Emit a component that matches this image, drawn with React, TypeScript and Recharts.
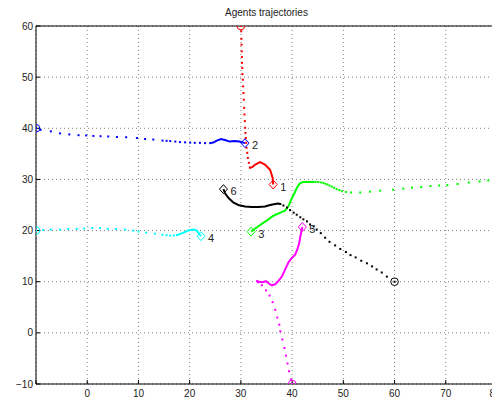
import React from "react";
import { CartesianGrid, ReferenceLine, Scatter, ScatterChart, XAxis, YAxis } from "recharts";

type Pt = [number, number];

const xTicks = [-10, 0, 10, 20, 30, 40, 50, 60, 70, 80];
const yTicks = [-10, 0, 10, 20, 30, 40, 50, 60];
const agentLabels = ["1", "2", "3", "4", "5", "6"];

// agent 1 (red): sparse dots from the start, then the dense tail
const agent1Dots: Pt[] = [
  [30, 60], [30.07, 58.96], [30.1, 57.5], [30.13, 56.35], [30.17, 55.05], [30.2, 53.95],
  [30.23, 52.8], [30.27, 51.8], [30.3, 50.6], [30.37, 49.5], [30.43, 48.2], [30.5, 46.9],
  [30.56, 45.6], [30.63, 44.0], [30.7, 42.7], [30.76, 41.4], [30.83, 40.1], [30.9, 39.1],
  [30.96, 38.1], [31.03, 37.15], [31.1, 36.2], [31.23, 35.2], [31.36, 34.2], [31.56, 33.25],
  [31.75, 32.3],
];
const agent1Trail: Pt[] = [
  [31.75, 32.3], [32.2, 32.4], [32.8, 32.9], [33.75, 33.4], [34.7, 32.9], [35.7, 31.9],
  [36.2, 30.3], [36.3, 29.0],
];

// agent 2 (blue)
const agent2Dots: Pt[] = [
  [-10, 40], [-9.1, 39.7], [-7.1, 39.4], [-5.3, 39.0], [-3.5, 38.8], [-1.7, 38.65],
  [-0.2, 38.6], [1.2, 38.5], [2.6, 38.45], [4.1, 38.4], [5.8, 38.3], [7.6, 38.25],
  [9.7, 38.1], [11.3, 37.9], [12.9, 37.8], [14.7, 37.6], [15.5, 37.55], [16.2, 37.5],
  [17.2, 37.4], [18.1, 37.3], [19.1, 37.25], [20.1, 37.2], [21.0, 37.15], [22.0, 37.15],
  [23.0, 37.1], [24.0, 37.1],
];
const agent2Trail: Pt[] = [
  [24.0, 37.1], [24.6, 37.2], [25.3, 37.6], [26.1, 37.9], [26.9, 37.7], [27.8, 37.4],
  [28.7, 37.5], [29.7, 37.4], [30.8, 37.1],
];

// agent 3 (green)
const agent3Dots: Pt[] = [
  [80, 30], [78.3, 29.8], [76.6, 29.6], [74.5, 29.4], [72.3, 29.1], [70.3, 28.9],
  [68.7, 28.8], [67.0, 28.7], [65.2, 28.5], [63.4, 28.4], [61.7, 28.2], [59.7, 28.0],
  [57.2, 27.8], [55.2, 27.6], [53.3, 27.45], [51.5, 27.45], [50.5, 27.55], [49.7, 27.7],
  [49.2, 27.9], [48.7, 28.1], [48.2, 28.35], [47.75, 28.6], [47.3, 28.8], [46.9, 29.0],
  [46.5, 29.15], [46.1, 29.3], [45.6, 29.4], [45.1, 29.5], [44.6, 29.5], [44.2, 29.5],
];
const agent3Trail: Pt[] = [
  [44.2, 29.5], [43.2, 29.5], [42.2, 29.5], [41.6, 29.3], [41.0, 28.5], [40.45, 27.3],
  [39.8, 26.0], [39.3, 24.8], [38.6, 23.9], [37.7, 23.5], [36.35, 22.9], [35.1, 22.0],
  [33.75, 21.1], [32.8, 20.4], [32.0, 19.8],
];

// agent 4 (cyan)
const agent4Dots: Pt[] = [
  [-10, 20], [-8.6, 20.1], [-7.1, 20.2], [-5.3, 20.2], [-3.7, 20.3], [-2.05, 20.35],
  [-0.6, 20.4], [1.0, 20.5], [2.5, 20.5], [4.0, 20.35], [5.6, 20.3], [7.4, 20.2],
  [9.0, 20.0], [10.0, 19.8], [11.5, 19.6], [13.2, 19.4], [14.7, 19.2], [15.5, 19.1],
  [16.2, 19.0], [16.9, 19.05], [17.5, 19.1],
];
const agent4Trail: Pt[] = [
  [17.5, 19.1], [18.8, 19.6], [19.7, 20.0], [20.7, 20.2], [21.4, 20.0], [21.8, 19.4],
  [22.2, 18.9],
];

// agent 5 (magenta)
const agent5Dots: Pt[] = [
  [40, -10], [39.8, -9.1], [39.4, -7.5], [39.1, -6.0], [38.8, -4.45], [38.5, -2.95],
  [38.1, -1.3], [37.7, 0.3], [37.5, 1.6], [37.1, 3.0], [36.7, 4.5], [36.2, 6.0],
  [35.6, 7.3], [34.9, 8.3], [34.1, 9.3], [33.4, 9.9],
];
const agent5Trail: Pt[] = [
  [33.4, 9.9], [33.0, 10.2], [33.55, 10.0], [34.2, 9.9], [34.9, 10.1], [35.4, 9.7],
  [36.0, 9.3], [36.7, 9.5], [37.3, 10.1], [38.0, 11.0], [38.6, 12.3], [39.3, 13.8],
  [39.9, 14.6], [40.6, 15.3], [41.0, 16.25], [41.4, 17.55], [41.6, 18.85], [41.9, 20.2],
  [42.0, 20.7],
];

// agent 6 (black)
const agent6Dots: Pt[] = [
  [60, 10], [58.5, 11.0], [57.5, 11.8], [56.5, 12.4], [55.6, 13.0], [54.6, 13.6],
  [53.5, 14.1], [52.4, 14.75], [51.4, 15.2], [50.5, 15.8], [49.4, 16.4], [48.4, 17.1],
  [47.3, 17.8], [46.45, 18.6], [45.6, 19.5], [44.8, 20.2], [44.2, 20.8], [43.5, 21.2],
  [42.9, 21.8], [42.2, 22.2], [41.6, 22.6], [40.9, 23.1], [40.3, 23.5], [39.6, 24.0],
  [39.0, 24.5], [38.3, 24.9], [37.7, 25.2],
];
const agent6Trail: Pt[] = [
  [37.7, 25.2], [37.2, 25.3], [36.7, 25.2], [35.7, 25.0], [34.7, 24.7], [33.4, 24.6],
  [32.1, 24.6], [30.8, 24.7], [29.5, 25.0], [28.5, 25.5], [27.6, 26.35], [26.9, 27.3],
  [26.6, 28.1],
];

const agents = [
  { dots: agent1Dots, trail: agent1Trail, color: "#ff0000" },
  { dots: agent2Dots, trail: agent2Trail, color: "#0000ff" },
  { dots: agent3Dots, trail: agent3Trail, color: "#00ff00" },
  { dots: agent4Dots, trail: agent4Trail, color: "#00ffff" },
  { dots: agent5Dots, trail: agent5Trail, color: "#ff00ff" },
  { dots: agent6Dots, trail: agent6Trail, color: "#000000" },
];

const FONT = "'Liberation Sans', Arial, Helvetica, sans-serif";
const toXY = (pts: Pt[]) => pts.map(([x, y]) => ({ x, y }));

const dotShape = (color: string) => (p: any) => (
  <rect x={p.cx - 1} y={p.cy - 1} width={2} height={2} fill={color} />
);

const startShape = (color: string) => (p: any) => (
  <circle cx={p.cx} cy={p.cy} r={3.8} fill="none" stroke={color} strokeWidth={1} />
);

const endShape = (color: string, label: string) => (p: any) => (
  <g>
    <path
      d={`M${p.cx},${p.cy - 4.5}L${p.cx + 4},${p.cy}L${p.cx},${p.cy + 4.5}L${p.cx - 4},${p.cy}Z`}
      fill="none"
      stroke={color}
      strokeWidth={1}
    />
    <text x={p.cx + 7} y={p.cy + 6} fontSize={11} fill="#222" fontFamily={FONT}>
      {label}
    </text>
  </g>
);

const noShape = () => <g />;

const fmtTick = (v: number) => (v < 0 ? `\u2212${Math.abs(v)}` : String(v));

export default function App() {
  return (
    <div style={{ position: "relative", width: 492, height: 395, fontFamily: FONT }}>
      <div
        style={{
          position: "absolute",
          top: -1,
          left: 28,
          width: 461,
          textAlign: "center",
          fontSize: 10,
          color: "#222",
          lineHeight: "12px",
        }}
      >
        Agents trajectories
      </div>
      <ScatterChart width={492} height={395} margin={{ top: 18, right: 3, left: 0, bottom: 0 }}>
        <CartesianGrid stroke="#808080" strokeDasharray="1 3" />
        <XAxis
          type="number"
          dataKey="x"
          domain={[-10, 80]}
          ticks={xTicks}
          allowDataOverflow
          tickFormatter={(v) => (v === -10 ? "" : fmtTick(v))}
          tickSize={-4}
          tickMargin={10}
          height={19}
          axisLine={{ stroke: "#000" }}
          tickLine={{ stroke: "#000" }}
          tick={{ fontSize: 10, fill: "#222", fontFamily: FONT }}
        />
        <XAxis
          xAxisId="top"
          orientation="top"
          type="number"
          domain={[-10, 80]}
          ticks={xTicks}
          allowDataOverflow
          tick={false}
          tickSize={-4}
          height={0}
          axisLine={{ stroke: "#000" }}
          tickLine={{ stroke: "#000" }}
        />
        <YAxis
          type="number"
          dataKey="y"
          domain={[-10, 60]}
          ticks={yTicks}
          allowDataOverflow
          tickFormatter={fmtTick}
          tickSize={-4}
          tickMargin={7}
          width={28}
          axisLine={{ stroke: "#000" }}
          tickLine={{ stroke: "#000" }}
          tick={{ fontSize: 10, fill: "#222", fontFamily: FONT }}
        />
        <YAxis
          yAxisId="right"
          orientation="right"
          type="number"
          domain={[-10, 60]}
          ticks={yTicks}
          allowDataOverflow
          tick={false}
          tickSize={-4}
          width={0}
          axisLine={{ stroke: "#000" }}
          tickLine={{ stroke: "#000" }}
        />
        <ReferenceLine y={60} stroke="#000" />
        <ReferenceLine x={80} stroke="#000" />
        {agents.map((a, i) => (
          <Scatter
            key={`trail-${i}`}
            data={toXY(a.trail)}
            fill={a.color}
            line={{ stroke: a.color, strokeWidth: 2 }}
            shape={noShape}
            isAnimationActive={false}
          />
        ))}
        {agents.map((a, i) => (
          <Scatter
            key={`dots-${i}`}
            data={toXY(a.dots)}
            fill={a.color}
            shape={dotShape(a.color)}
            isAnimationActive={false}
          />
        ))}
        {agents.map((a, i) => (
          <Scatter
            key={`start-${i}`}
            data={toXY(a.dots.slice(0, 1))}
            fill={a.color}
            shape={startShape(a.color)}
            isAnimationActive={false}
          />
        ))}
        {agents.map((a, i) => (
          <Scatter
            key={`end-${i}`}
            data={toXY(a.trail.slice(-1))}
            fill={a.color}
            shape={endShape(a.color, agentLabels[i])}
            isAnimationActive={false}
          />
        ))}
      </ScatterChart>
    </div>
  );
}
